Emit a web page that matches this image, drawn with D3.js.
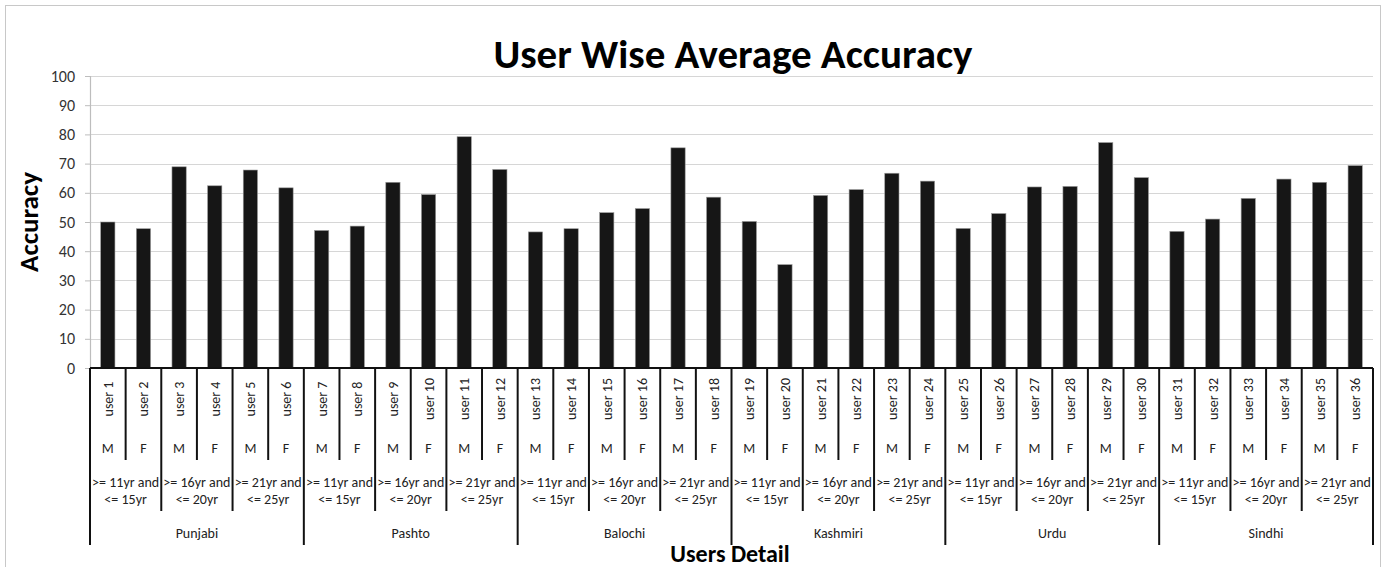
<!DOCTYPE html>
<html>
<head>
<meta charset="utf-8">
<script src="https://cdn.jsdelivr.net/npm/d3@7"></script>
<style>
  body { margin: 0; background: #fff; }
  svg { display: block; font-family: Carlito, Calibri, "Open Sans", sans-serif; }
</style>
</head>
<body>
<div id="chart"></div>
<script>
// chart data
const users = [
  'user 1', 'user 2', 'user 3', 'user 4', 'user 5', 'user 6',
  'user 7', 'user 8', 'user 9', 'user 10', 'user 11', 'user 12',
  'user 13', 'user 14', 'user 15', 'user 16', 'user 17', 'user 18',
  'user 19', 'user 20', 'user 21', 'user 22', 'user 23', 'user 24',
  'user 25', 'user 26', 'user 27', 'user 28', 'user 29', 'user 30',
  'user 31', 'user 32', 'user 33', 'user 34', 'user 35', 'user 36'
];
const accuracy = [
  50.0, 47.7, 68.9, 62.4, 67.8, 61.7,
  47.1, 48.6, 63.6, 59.4, 79.2, 68.0,
  46.6, 47.7, 53.2, 54.6, 75.4, 58.5,
  50.2, 35.4, 59.1, 61.1, 66.7, 64.0,
  47.8, 52.9, 62.0, 62.2, 77.2, 65.2,
  46.8, 51.0, 58.1, 64.7, 63.6, 69.3
];
const genders = ['M', 'F'];
const ageGroups = [['>= 11yr and', '<= 15yr'], ['>= 16yr and', '<= 20yr'], ['>= 21yr and', '<= 25yr']];
const languages = ['Punjabi', 'Pashto', 'Balochi', 'Kashmiri', 'Urdu', 'Sindhi'];
const yTicks = [0, 10, 20, 30, 40, 50, 60, 70, 80, 90, 100];

const width = 1384, height = 567;
const plot = { left: 90, right: 1373, top: 76, bottom: 368 };
const catSize = 14;

const svg = d3.select('#chart').append('svg')
  .attr('width', width)
  .attr('height', height);

// outer chart border
svg.append('rect')
  .attr('x', 5.5).attr('y', 5.5)
  .attr('width', 1375).attr('height', 570)
  .attr('fill', '#fff')
  .attr('stroke', '#c8c8c8');

// scales
const x = d3.scaleBand()
  .domain(users)
  .range([plot.left, plot.right])
  .paddingInner(0.6)
  .paddingOuter(0.3);

const cell = d3.scaleBand()
  .domain(d3.range(users.length))
  .range([plot.left, plot.right]);

const y = d3.scaleLinear()
  .domain([0, 100])
  .range([plot.bottom, plot.top]);

// gridlines
svg.append('g')
  .selectAll('line')
  .data(yTicks.filter(d => d > 0))
  .join('line')
  .attr('x1', plot.left).attr('x2', plot.right)
  .attr('y1', d => Math.round(y(d)) + 0.5)
  .attr('y2', d => Math.round(y(d)) + 0.5)
  .attr('stroke', '#d6d6d6')
  .attr('stroke-width', 1.2);

// y axis
const yAxis = d3.axisLeft(y)
  .tickValues(yTicks)
  .tickSize(5)
  .tickPadding(10);

const yAxisG = svg.append('g')
  .attr('transform', `translate(${plot.left},0)`)
  .call(yAxis);
yAxisG.select('.domain').attr('stroke', '#bdbdbd').attr('stroke-width', 1.2);
yAxisG.selectAll('.tick line').attr('stroke', '#bdbdbd');
yAxisG.selectAll('.tick text')
  .attr('font-size', 16)
  .attr('fill', '#333')
  .style('font-family', 'Carlito, Calibri, "Open Sans", sans-serif');

// bars
svg.append('g')
  .selectAll('rect')
  .data(users.map((u, i) => ({ user: u, value: accuracy[i] })))
  .join('rect')
  .attr('x', d => x(d.user))
  .attr('y', d => y(d.value))
  .attr('width', x.bandwidth())
  .attr('height', d => y(0) - y(d.value))
  .attr('fill', '#161616')
  .attr('stroke', '#9a9a9a')
  .attr('stroke-width', 0.6);

// x axis baseline
svg.append('line')
  .attr('x1', plot.left).attr('x2', plot.right)
  .attr('y1', plot.bottom).attr('y2', plot.bottom)
  .attr('stroke', '#111')
  .attr('stroke-width', 2);

// multi-level category separators
const sepDepth = i => {
  if (i % 6 === 0) return 545;
  if (i % 2 === 0) return 511;
  return 460;
};
svg.append('g')
  .selectAll('line')
  .data(d3.range(users.length + 1))
  .join('line')
  .attr('x1', i => i === users.length ? plot.right : cell(i))
  .attr('x2', i => i === users.length ? plot.right : cell(i))
  .attr('y1', plot.bottom)
  .attr('y2', i => sepDepth(i))
  .attr('stroke', '#111')
  .attr('stroke-width', 2);

const labels = svg.append('g').attr('fill', '#222');

// user labels
labels.selectAll('.user-label')
  .data(users)
  .join('text')
  .attr('class', 'user-label')
  .attr('transform', (d, i) => `translate(${cell(i) + cell.bandwidth() / 2 + 5},399) rotate(-90)`)
  .attr('text-anchor', 'middle')
  .attr('font-size', catSize)
  .text(d => d);

// gender labels
labels.selectAll('.gender-label')
  .data(users)
  .join('text')
  .attr('class', 'gender-label')
  .attr('x', (d, i) => cell(i) + cell.bandwidth() / 2)
  .attr('y', 453)
  .attr('text-anchor', 'middle')
  .attr('font-size', catSize)
  .text((d, i) => genders[i % 2]);

// age group labels
const ageCells = d3.range(users.length / 2);
const ageText = labels.selectAll('.age-label')
  .data(ageCells)
  .join('text')
  .attr('class', 'age-label')
  .attr('text-anchor', 'middle')
  .attr('font-size', catSize);
ageText.each(function (k) {
  const cx = cell(k * 2) + cell.bandwidth();
  const lines = ageGroups[k % 3];
  d3.select(this).selectAll('tspan')
    .data(lines)
    .join('tspan')
    .attr('x', cx)
    .attr('y', (d, j) => 487 + j * 17)
    .text(d => d);
});

// language labels
labels.selectAll('.lang-label')
  .data(languages)
  .join('text')
  .attr('class', 'lang-label')
  .attr('x', (d, i) => cell(i * 6) + cell.bandwidth() * 3)
  .attr('y', 538)
  .attr('text-anchor', 'middle')
  .attr('font-size', catSize)
  .text(d => d);

// titles
svg.append('text')
  .attr('x', 733)
  .attr('y', 68)
  .attr('text-anchor', 'middle')
  .attr('font-size', 41)
  .attr('font-weight', 'bold')
  .attr('fill', '#000')
  .text('User Wise Average Accuracy');

svg.append('text')
  .attr('transform', 'translate(38,222) rotate(-90)')
  .attr('text-anchor', 'middle')
  .attr('font-size', 27)
  .attr('font-weight', 'bold')
  .attr('fill', '#000')
  .text('Accuracy');

svg.append('text')
  .attr('x', 730)
  .attr('y', 562)
  .attr('text-anchor', 'middle')
  .attr('font-size', 24)
  .attr('font-weight', 'bold')
  .attr('fill', '#000')
  .text('Users Detail');
</script>
</body>
</html>
